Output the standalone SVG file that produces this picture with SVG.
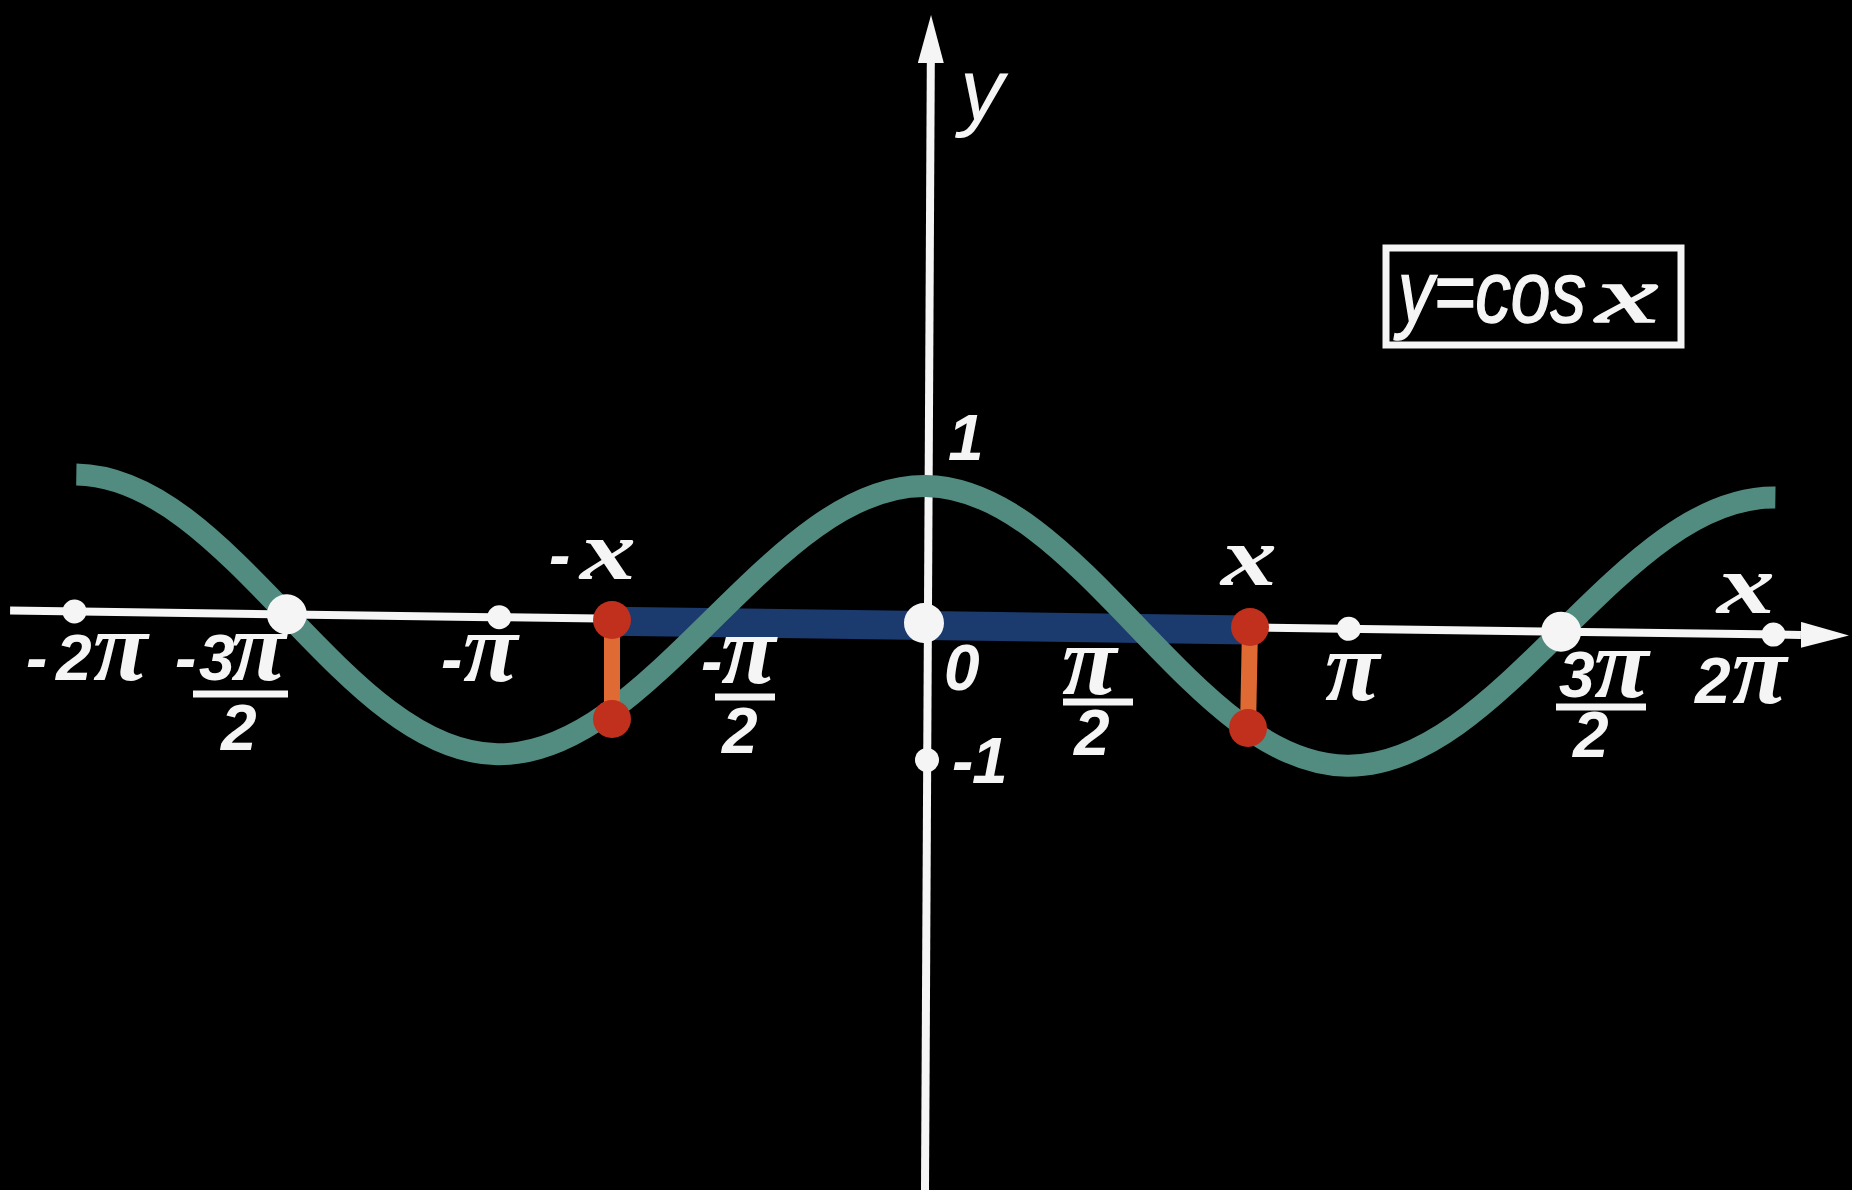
<svg xmlns="http://www.w3.org/2000/svg" width="1852" height="1190" viewBox="0 0 1852 1190">
<defs>
<marker id="arrow" viewBox="0 0 48 26" markerWidth="48" markerHeight="26" refX="0" refY="13" orient="auto" markerUnits="userSpaceOnUse">
<path d="M0,0 L48,13 L0,26 z" fill="#f5f5f5"/>
</marker>
<style>
.ax { stroke: #f5f5f5; stroke-width: 8; fill: none; }
.sdot { fill: #f5f5f5; }
.curve { stroke: #528c80; stroke-width: 22; fill: none; stroke-linecap: butt; }
.band { fill: #1b3a6e; }
.rdot { fill: #c0301c; }
.rbar { stroke: #e06a34; stroke-width: 16; }
.lbl { font-family: "Liberation Sans", "DejaVu Sans", sans-serif; font-style: italic; font-weight: bold; font-size: 64px; fill: #f5f5f5; }
.pi { font-family: "Liberation Serif", "DejaVu Serif", serif; font-style: italic; font-weight: bold; font-size: 100px; }
.vx { font-family: "Liberation Serif", "DejaVu Serif", serif; font-style: italic; font-weight: bold; font-size: 84px; fill: #f5f5f5; }
.bar { stroke: #f5f5f5; stroke-width: 7; }
.hand { font-family: "Liberation Sans", "DejaVu Sans", sans-serif; font-style: italic; font-weight: normal; fill: #f5f5f5; }
</style>
</defs>
<rect x="0" y="0" width="1852" height="1190" fill="#000"/>

<g id="y-axis">
<line class="ax" x1="925" y1="1190" x2="930.8" y2="63" marker-end="url(#arrow)"/>
<circle class="sdot" cx="927" cy="760" r="12"/>
</g>

<g id="x-axis-frame" transform="rotate(0.777 924 623)">
<g id="x-axis">
<line class="ax" x1="10" y1="623" x2="1801" y2="623" marker-end="url(#arrow)"/>
</g>
<g id="segment">
<rect class="band" x="612" y="611" width="637" height="29"/>
</g>
<g id="cos-curve">
<path class="curve" d="M74.4,486 C151.27,486 217.54,552.81 286.8,623 C356.06,693.19 422.33,760 499.2,760 C576.07,760 642.34,693.19 711.6,623 C780.86,552.81 847.13,486 924,486 C1000.87,486 1067.14,552.81 1136.4,623 C1205.66,693.19 1271.93,760 1348.8,760 C1425.67,760 1491.94,693.19 1561.2,623 C1630.46,552.81 1696.73,486 1773.6,486"/>
</g>
<g id="ticks">
<circle class="sdot" cx="74.4" cy="623" r="12"/>
<circle class="sdot" cx="499.2" cy="623" r="12"/>
<circle class="sdot" cx="1348.8" cy="623" r="12"/>
<circle class="sdot" cx="1773.6" cy="623" r="12"/>
<circle class="sdot" cx="286.8" cy="623" r="20"/>
<circle class="sdot" cx="924" cy="623" r="20"/>
<circle class="sdot" cx="1561.2" cy="623" r="20"/>
</g>
</g>

<g id="ordinates">
<line class="rbar" x1="612" y1="620" x2="612" y2="719"/>
<circle class="rdot" cx="612" cy="620" r="19"/>
<circle class="rdot" cx="612" cy="719" r="19"/>
<line class="rbar" x1="1250" y1="627" x2="1248" y2="728"/>
<circle class="rdot" cx="1250" cy="627" r="19"/>
<circle class="rdot" cx="1248" cy="728" r="19"/>
</g>

<g id="fraction-bars">
<line class="bar" x1="193" y1="694" x2="288" y2="694"/>
<line class="bar" x1="715" y1="697" x2="775" y2="697"/>
<line class="bar" x1="1063" y1="702" x2="1133" y2="702"/>
<line class="bar" x1="1556" y1="707" x2="1646" y2="707"/>
</g>

<g id="labels">
<text class="lbl" x="26" y="680">-<tspan x="56">2</tspan><tspan class="pi" x="93">π</tspan></text>
<text class="lbl" x="175" y="680">-<tspan x="199">3</tspan><tspan class="pi" x="231">π</tspan><tspan x="221" y="750">2</tspan></text>
<text class="lbl" x="441" y="681">-<tspan class="pi" x="463">π</tspan></text>
<text class="lbl" x="701" y="683">-<tspan class="pi" x="721">π</tspan><tspan x="722" y="753">2</tspan></text>
<text class="lbl" x="944" y="690">0</text>
<text class="lbl" x="1062" y="694"><tspan class="pi">π</tspan><tspan x="1074" y="755">2</tspan></text>
<text class="lbl" x="1325" y="700"><tspan class="pi">π</tspan></text>
<text class="lbl" x="1559" y="697">3<tspan class="pi" x="1594">π</tspan><tspan x="1573" y="757">2</tspan></text>
<text class="lbl" x="1695" y="703">2<tspan class="pi" x="1732">π</tspan></text>
<text class="lbl" x="952" y="783">-<tspan x="972">1</tspan></text>
<text class="lbl" x="948" y="460">1</text>
<text class="lbl" x="549" y="577">-<tspan class="vx" x="580" y="579" textLength="56" lengthAdjust="spacingAndGlyphs">x</tspan></text>
<text class="vx" x="1221" y="585" textLength="56" lengthAdjust="spacingAndGlyphs">x</text>
<text class="vx" x="1717" y="613" textLength="58" lengthAdjust="spacingAndGlyphs">x</text>
<text class="hand" x="960" y="120" font-size="88">y</text>
</g>

<g id="formula">
<rect x="1386" y="248" width="295" height="97" fill="none" stroke="#f5f5f5" stroke-width="7"/>
<text class="hand" x="1398" y="322" font-size="88" stroke="#f5f5f5" stroke-width="1.5"><tspan textLength="188" lengthAdjust="spacingAndGlyphs">y=cos</tspan><tspan x="1596" font-size="80" style="font-family:'Liberation Serif','DejaVu Serif',serif" textLength="62" lengthAdjust="spacingAndGlyphs">x</tspan></text>
</g>
</svg>
